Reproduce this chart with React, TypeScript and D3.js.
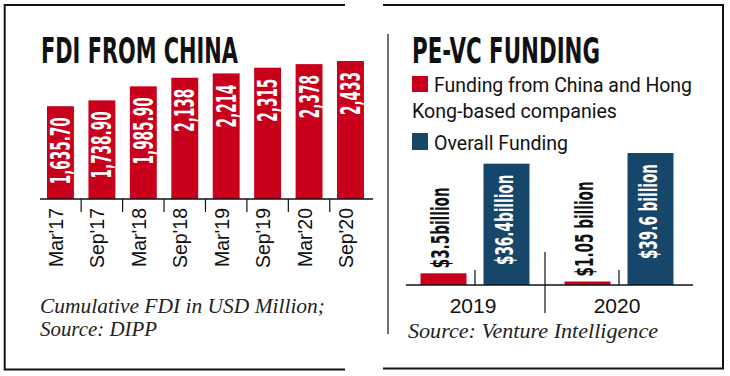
import React from "react";
import * as d3 from "d3";

// ---- Data ----
const fdiPeriods = ["Mar'17", "Sep'17", "Mar'18", "Sep'18", "Mar'19", "Sep'19", "Mar'20", "Sep'20"];
const fdiValues = [1635.7, 1738.9, 1985.9, 2138, 2214, 2315, 2378, 2433];
const fdiLabels = ["1,635.70", "1,738.90", "1,985.90", "2,138", "2,214", "2,315", "2,378", "2,433"];

const peYears = ["2019", "2020"];
const peSeries = ["china", "overall"];
const peChina = [3.5, 1.05];
const peOverall = [36.4, 39.6];
const peChinaLabels = ["$3.5billion", "$1.05 billion"];
const peOverallLabels = ["$36.4billion", "$39.6 billion"];

const RED = "#c8001b";
const BLUE = "#17466b";
const NARROW = "'DejaVu Sans Condensed', 'DejaVu Sans', sans-serif";
const SANS = "'Liberation Sans', Arial, sans-serif";
const SERIF = "'Liberation Serif', 'DejaVu Serif', serif";

export default function App() {
  // Left chart scales
  const xL = d3.scaleBand<string>().domain(fdiPeriods).range([39.75, 371.2]).paddingInner(0.35).paddingOuter(0.175);
  const baseL = 199;
  const yL = d3.scaleLinear().domain([0, d3.max(fdiValues) as number]).range([baseL, 61]);
  const stepL = xL.step();

  // Right chart scales
  const baseR = 285;
  const x0 = d3.scaleBand<string>().domain(peYears).range([403, 691]);
  const x1 = d3.scaleBand<string>().domain(peSeries).range([17.5, 126.5]).paddingInner(0.27);
  const yR = d3.scaleLinear().domain([0, d3.max(peOverall) as number]).range([baseR, 153]);

  return (
    <svg width={730} height={376} style={{ position: "absolute", left: 0, top: 0, background: "#fff" }}>
      <rect width={730} height={376} fill="#fff" />
      {/* Left panel border */}
      <path d="M345,5 H4.7 V369.5 H345" fill="none" stroke="#111" strokeWidth={2} />
      {/* Right panel border */}
      <path d="M383,5 H723 V368.5 H383" fill="none" stroke="#111" strokeWidth={2} />
      <line x1={388} x2={388} y1={34} y2={334} stroke="#111" strokeWidth={1.2} />

      {/* Left title */}
      <text x={41} y={63} fontFamily={NARROW} fontStretch="condensed" fontWeight="bold" fontSize={36} textLength={197} lengthAdjust="spacingAndGlyphs" fill="#111">
        FDI FROM CHINA
      </text>

      {/* Left bars */}
      {fdiValues.map((v, i) => (
        <rect key={"b" + i} x={xL(fdiPeriods[i])} y={yL(v)} width={xL.bandwidth()} height={baseL - yL(v)} fill={RED} />
      ))}
      {fdiValues.map((v, i) => {
        const cx = (xL(fdiPeriods[i]) as number) + xL.bandwidth() / 2;
        return (
          <text
            key={"l" + i}
            transform={`translate(${cx + 9.5},${yL(v) + 11}) rotate(-90) scale(0.56,1)`}
            textAnchor="end"
            fontFamily={NARROW}
            fontStretch="condensed"
            fontWeight="bold"
            fontSize={27}
            fill="#fff"
          >
            {fdiLabels[i]}
          </text>
        );
      })}
      {/* Left axis */}
      <line x1={40} x2={373} y1={baseL} y2={baseL} stroke="#111" strokeWidth={1.3} />
      {fdiPeriods.slice(1).map((p, i) => {
        const tx = (xL(p) as number) - (stepL * 0.35) / 2;
        return <line key={"t" + i} x1={tx} x2={tx} y1={baseL} y2={212} stroke="#111" strokeWidth={1.2} />;
      })}
      {fdiPeriods.map((p, i) => {
        const cx = (xL(p) as number) + xL.bandwidth() / 2;
        return (
          <text key={"x" + i} transform={`translate(${cx + 2.5},208) rotate(-90)`} textAnchor="end" fontFamily={SANS} fontSize={19.5} fill="#111">
            {p}
          </text>
        );
      })}
      {/* Left caption */}
      <text x={40} y={313} fontFamily={SERIF} fontStyle="italic" fontSize={20} textLength={285} lengthAdjust="spacingAndGlyphs" fill="#222">
        Cumulative FDI in USD Million;
      </text>
      <text x={40} y={336} fontFamily={SERIF} fontStyle="italic" fontSize={20} textLength={117} lengthAdjust="spacingAndGlyphs" fill="#222">
        Source: DIPP
      </text>

      {/* Right title */}
      <text x={412} y={63} fontFamily={NARROW} fontStretch="condensed" fontWeight="bold" fontSize={36} textLength={188} lengthAdjust="spacingAndGlyphs" fill="#111">
        PE-VC FUNDING
      </text>
      {/* Legend */}
      <rect x={412} y={76} width={16} height={16} fill={RED} />
      <text x={434} y={92} fontFamily="Roboto, sans-serif" fontSize={20} textLength={258} lengthAdjust="spacingAndGlyphs" fill="#111">
        Funding from China and Hong
      </text>
      <text x={412} y={118} fontFamily="Roboto, sans-serif" fontSize={20} textLength={205} lengthAdjust="spacingAndGlyphs" fill="#111">
        Kong-based companies
      </text>
      <rect x={412} y={133} width={16} height={17} fill={BLUE} />
      <text x={434} y={150} fontFamily="Roboto, sans-serif" fontSize={20} textLength={134} lengthAdjust="spacingAndGlyphs" fill="#111">
        Overall Funding
      </text>

      {/* Right bars */}
      {peYears.map((yr, i) => {
        const gx = x0(yr) as number;
        const xc = gx + (x1("china") as number);
        const xo = gx + (x1("overall") as number);
        const bw = x1.bandwidth();
        return (
          <g key={"g" + i}>
            <rect x={xc} y={yR(peChina[i])} width={bw} height={baseR - yR(peChina[i])} fill={RED} />
            <rect x={xo} y={yR(peOverall[i])} width={bw} height={baseR - yR(peOverall[i])} fill={BLUE} />
            <text
              transform={`translate(${xc + bw / 2 + 6},${yR(peChina[i]) - 5}) rotate(-90) scale(0.63,1)`}
              textAnchor="start"
              fontFamily={NARROW}
              fontStretch="condensed"
              fontWeight="bold"
              fontSize={24}
              fill="#111"
            >
              {peChinaLabels[i]}
            </text>
            <text
              transform={`translate(${xo + bw / 2 + 6},${yR(peOverall[i]) + 11}) rotate(-90) scale(0.63,1)`}
              textAnchor="end"
              fontFamily={NARROW}
              fontStretch="condensed"
              fontWeight="bold"
              fontSize={24}
              fill="#fff"
            >
              {peOverallLabels[i]}
            </text>
            <line x1={gx + x0.bandwidth() / 2} x2={gx + x0.bandwidth() / 2} y1={270} y2={baseR} stroke="#111" strokeWidth={1.2} />
            <text x={gx + x0.bandwidth() / 2 - 2} y={313} textAnchor="middle" fontFamily={SANS} fontSize={21} fill="#111">
              {yr}
            </text>
          </g>
        );
      })}
      <line x1={406} x2={693} y1={baseR} y2={baseR} stroke="#111" strokeWidth={1.3} />
      <line x1={(x0("2020") as number) - 2} x2={(x0("2020") as number) - 2} y1={252} y2={313} stroke="#111" strokeWidth={1.2} />
      <text x={408} y={338} fontFamily={SERIF} fontStyle="italic" fontSize={20} textLength={250} lengthAdjust="spacingAndGlyphs" fill="#222">
        Source: Venture Intelligence
      </text>
    </svg>
  );
}
